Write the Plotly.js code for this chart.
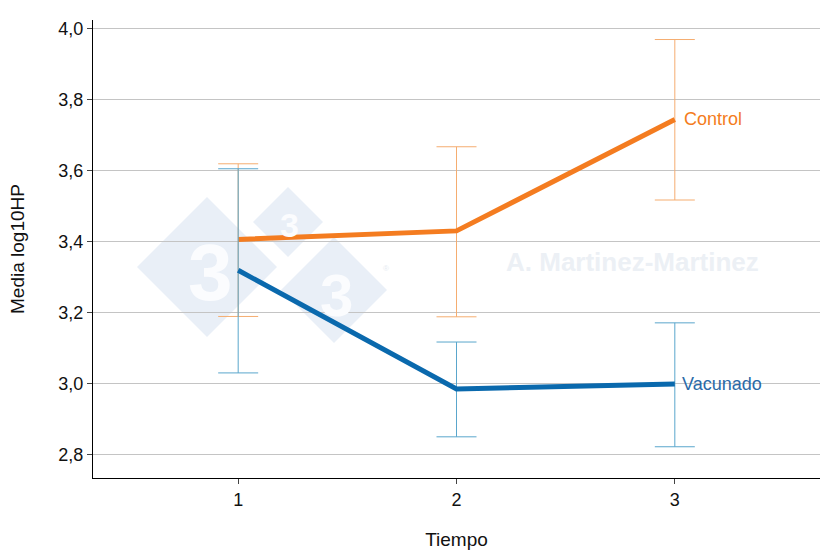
<!DOCTYPE html>
<html>
<head>
<meta charset="utf-8">
<script src="https://cdn.plot.ly/plotly-3.0.1.min.js"></script>
<style>html,body{margin:0;padding:0;background:#fff;}#chart{width:820px;height:555px;}</style>
</head>
<body>
<div id="chart"></div>
<script>
const tiempo = [1, 2, 3];
const controlMean = [3.407, 3.431, 3.745];
const controlUpper = [3.620, 3.668, 3.970];
const controlLower = [3.190, 3.189, 3.518];
const vacMean = [3.320, 2.986, 3.000];
const vacUpper = [3.606, 3.118, 3.172];
const vacLower = [3.031, 2.851, 2.823];
const seriesNames = ['Control', 'Vacunado'];

const plus = (u, m) => u.map((v, i) => v - m[i]);
const minus = (l, m) => m.map((v, i) => v - l[i]);

const ORANGE = '#f47c20', ORANGE_L = '#f5ad70';
const BLUE = '#0a69ad', BLUE_L = '#5aa6cc';
const FONT = 'Arial, Liberation Sans, sans-serif';

const traces = [
  {x: tiempo, y: controlMean, name: seriesNames[0], type: 'scatter', mode: 'lines',
   line: {color: ORANGE, width: 5},
   error_y: {type: 'data', symmetric: false, array: plus(controlUpper, controlMean),
             arrayminus: minus(controlLower, controlMean), color: ORANGE_L, thickness: 1, width: 20}},
  {x: tiempo, y: vacMean, name: seriesNames[1], type: 'scatter', mode: 'lines',
   line: {color: BLUE, width: 5},
   error_y: {type: 'data', symmetric: false, array: plus(vacUpper, vacMean),
             arrayminus: minus(vacLower, vacMean), color: BLUE_L, thickness: 1, width: 20}}
];

// watermark geometry (pixel -> paper)
const L = 93, T = 20, W = 727, H = 458;
const px = x => (x - L) / W, py = y => 1 - (y - T) / H;
function diamond(cx, cy, r) {
  return {type: 'path', xref: 'paper', yref: 'paper', layer: 'below',
    path: `M ${px(cx - r)} ${py(cy)} L ${px(cx)} ${py(cy - r)} L ${px(cx + r)} ${py(cy)} L ${px(cx)} ${py(cy + r)} Z`,
    fillcolor: '#e9eff7', line: {width: 0}};
}
const shapes = [diamond(207, 267, 70), diamond(288, 222, 35), diamond(334, 290, 53)];
const wm3 = [[210, 272, 80], [289, 225, 34], [336, 295, 60]].map(([x, y, s]) => ({
  xref: 'paper', yref: 'paper', x: px(x), y: py(y), text: '<b>3</b>', showarrow: false,
  font: {family: FONT, size: s, color: '#fbfcfe'}, xanchor: 'center', yanchor: 'middle'}));

const annotations = [
  ...wm3,
  {xref: 'paper', yref: 'paper', x: px(386), y: py(268), text: '®', showarrow: false,
   font: {family: FONT, size: 8, color: '#e6ebf2'}},
  {xref: 'paper', yref: 'paper', x: px(632), y: py(262), text: '<b>A. Martinez-Martinez</b>', showarrow: false,
   font: {family: FONT, size: 26, color: '#ecf0f5'}, xanchor: 'center', yanchor: 'middle'},
  {x: tiempo[2], y: controlMean[2], text: seriesNames[0], showarrow: false, xanchor: 'left', xshift: 7,
   font: {family: FONT, size: 18, color: ORANGE}},
  {x: tiempo[2], y: vacMean[2], text: seriesNames[1], showarrow: false, xanchor: 'left', xshift: 5,
   font: {family: FONT, size: 18, color: '#2a6aa8'}}
];

const layout = {
  width: 820, height: 555,
  margin: {l: L, r: 820 - L - W, t: T, b: 555 - T - H},
  paper_bgcolor: '#fff', plot_bgcolor: '#fff',
  separators: ',.',
  showlegend: false,
  font: {family: FONT, size: 18, color: '#111'},
  xaxis: {range: [0.335, 3.665], tickvals: tiempo, ticktext: tiempo.map(String),
          showgrid: false, zeroline: false, showline: true, linecolor: '#000', linewidth: 1,
          ticks: 'outside', ticklen: 5, tickcolor: '#444',
          title: {text: 'Tiempo', standoff: 24, font: {size: 19}}},
  yaxis: {range: [2.735, 4.025], tick0: 2.8, dtick: 0.2, tickformat: '.1f',
          showgrid: true, gridcolor: '#c4c4c4', gridwidth: 1, zeroline: false,
          showline: true, linecolor: '#000', linewidth: 1,
          ticks: 'outside', ticklen: 5, tickcolor: '#444',
          title: {text: 'Media log10HP', standoff: 28, font: {size: 19}}},
  shapes: shapes,
  annotations: annotations
};

Plotly.newPlot('chart', traces, layout, {displayModeBar: false, staticPlot: true});
</script>
</body>
</html>
